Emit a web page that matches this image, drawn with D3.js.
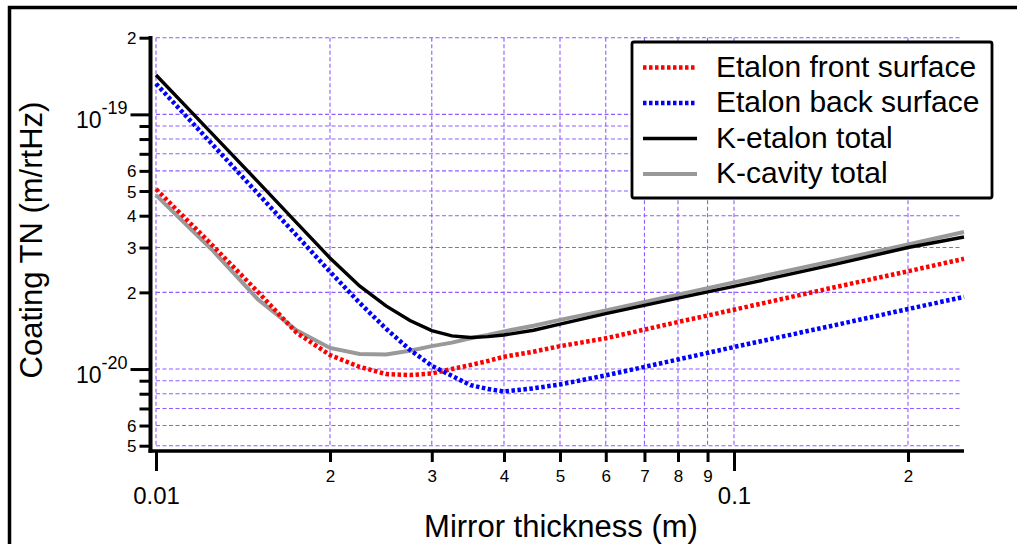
<!DOCTYPE html>
<html>
<head>
<meta charset="utf-8">
<script src="https://cdn.jsdelivr.net/npm/d3@7"></script>
<style>
body { margin: 0; background: #fff; }
svg { display: block; font-family: "Liberation Sans", Arial, Helvetica, sans-serif; }
</style>
</head>
<body>
<svg width="1017" height="544"></svg>
<script>
// mirror thickness (m)
let thickness = [0.01, 0.0125, 0.015, 0.0175, 0.02, 0.0225, 0.025, 0.0275, 0.03, 0.0325, 0.035, 0.0375, 0.04, 0.045, 0.05, 0.06, 0.08, 0.1, 0.15, 0.2, 0.25]

// coating thermal noise (m/rtHz)
let frontSurface = [5.09e-20, 3.07e-20, 2.01e-20, 1.39e-20, 1.135e-20, 1.02e-20, 0.956e-20, 0.947e-20, 0.96e-20, 1.0e-20, 1.037e-20, 1.075e-20, 1.118e-20, 1.17e-20, 1.23e-20, 1.32e-20, 1.53e-20, 1.71e-20, 2.10e-20, 2.42e-20, 2.71e-20]
let backSurface = [1.32e-19, 7.65e-20, 4.89e-20, 3.35e-20, 2.41e-20, 1.82e-20, 1.44e-20, 1.19e-20, 1.03e-20, 0.94e-20, 0.865e-20, 0.835e-20, 0.816e-20, 0.84e-20, 0.87e-20, 0.944e-20, 1.09e-20, 1.22e-20, 1.49e-20, 1.72e-20, 1.92e-20]
let kEtalonTotal = [1.427e-19, 8.40e-20, 5.44e-20, 3.76e-20, 2.73e-20, 2.12e-20, 1.77e-20, 1.55e-20, 1.415e-20, 1.35e-20, 1.33e-20, 1.34e-20, 1.36e-20, 1.42e-20, 1.50e-20, 1.65e-20, 1.90e-20, 2.11e-20, 2.58e-20, 3.0e-20, 3.30e-20]
let kCavityTotal = [4.82e-20, 2.94e-20, 1.88e-20, 1.42e-20, 1.21e-20, 1.145e-20, 1.14e-20, 1.18e-20, 1.23e-20, 1.27e-20, 1.32e-20, 1.36e-20, 1.405e-20, 1.48e-20, 1.56e-20, 1.70e-20, 1.96e-20, 2.19e-20, 2.67e-20, 3.085e-20, 3.45e-20]

let seriesNames = ['Etalon front surface', 'Etalon back surface', 'K-etalon total', 'K-cavity total']

// tick values and labels
let xMinorTicks = [0.02, 0.03, 0.04, 0.05, 0.06, 0.07, 0.08, 0.09, 0.2]
let xMinorLabels = ['2', '3', '4', '5', '6', '7', '8', '9', '2']
let xMajorTicks = [0.01, 0.1]
let xMajorLabels = ['0.01', '0.1']

let yMinorTicks = [5e-21, 6e-21, 7e-21, 8e-21, 9e-21, 2e-20, 3e-20, 4e-20, 5e-20, 6e-20, 7e-20, 8e-20, 9e-20, 2e-19]
let yMinorLabels = ['5', '6', '', '', '', '2', '3', '4', '5', '6', '', '', '', '2']
let yMajorTicks = [1e-20, 1e-19]
let yMajorExponents = ['-20', '-19']

let svg = d3.select('svg')

let x = d3.scaleLog().domain([0.01, 0.25]).range([156, 964])
let y = d3.scaleLog().domain([5e-21, 2e-19]).range([445.7, 37.7])

let gridColor = '#8f5cff'

// outer frame
svg.append('rect')
   .attr('x', 9.5).attr('y', 7.5)
   .attr('width', 1100).attr('height', 600)
   .attr('fill', 'none').attr('stroke', '#000').attr('stroke-width', 3.5)

// grid
let grid = svg.append('g')
grid.selectAll('.vgrid')
    .data(xMajorTicks.concat(xMinorTicks))
    .enter().append('line')
    .attr('x1', d => x(d)).attr('x2', d => x(d))
    .attr('y1', y.range()[1]).attr('y2', y.range()[0])
grid.selectAll('.hgrid')
    .data(yMajorTicks.concat(yMinorTicks))
    .enter().append('line')
    .attr('x1', x.range()[0]).attr('x2', 962)
    .attr('y1', d => y(d)).attr('y2', d => y(d))
grid.selectAll('line')
    .attr('stroke', gridColor).attr('stroke-width', 1.1)
    .attr('stroke-dasharray', '4,2.5')

// curves
let line = d3.line()
             .x((d, i) => x(thickness[i]))
             .y(d => y(d))

let curves = [
    {data: kCavityTotal, color: '#999999', width: 4, dash: null},
    {data: kEtalonTotal, color: '#000000', width: 3.4, dash: null},
    {data: frontSurface, color: '#ff0000', width: 4.5, dash: '3.5,2.5'},
    {data: backSurface, color: '#0000ff', width: 4.5, dash: '3.5,2.5'}
]
svg.selectAll('.curve')
   .data(curves)
   .enter().append('path')
   .attr('class', 'curve')
   .attr('d', d => line(d.data))
   .attr('fill', 'none')
   .attr('stroke', d => d.color)
   .attr('stroke-width', d => d.width)
   .attr('stroke-dasharray', d => d.dash)

// y axis
let yAxisX = 150.5
let yMinorAxis = svg.append('g')
    .attr('transform', `translate(${yAxisX},0)`)
    .call(d3.axisLeft(y).tickValues(yMinorTicks).tickSize(11).tickPadding(3)
          .tickFormat((d, i) => yMinorLabels[i]))
let yMajorAxis = svg.append('g')
    .attr('transform', `translate(${yAxisX},0)`)
    .call(d3.axisLeft(y).tickValues(yMajorTicks).tickSize(20).tickFormat(''))

yMajorAxis.selectAll('.tick').each(function (d, i) {
    let t = d3.select(this).append('text')
              .attr('x', -23).attr('y', 13)
              .attr('text-anchor', 'end')
              .attr('fill', '#000')
    t.append('tspan').attr('font-size', 23).text('10')
    t.append('tspan').attr('font-size', 18).attr('dy', -14).text(yMajorExponents[i])
})

// x axis
let xAxisY = 451
let xMinorAxis = svg.append('g')
    .attr('transform', `translate(0,${xAxisY})`)
    .call(d3.axisBottom(x).tickValues(xMinorTicks).tickSize(11).tickPadding(8)
          .tickFormat((d, i) => xMinorLabels[i]))
let xMajorAxis = svg.append('g')
    .attr('transform', `translate(0,${xAxisY})`)
    .call(d3.axisBottom(x).tickValues(xMajorTicks).tickSize(20).tickPadding(16)
          .tickFormat((d, i) => xMajorLabels[i]))

svg.selectAll('.domain').remove()
svg.selectAll('.tick line').attr('stroke', '#000').attr('stroke-width', 3)
yMinorAxis.selectAll('text').attr('font-size', 17).attr('dy', '0.36em')
xMinorAxis.selectAll('text').attr('font-size', 17)
xMajorAxis.selectAll('text').attr('font-size', 24)
svg.selectAll('g').attr('font-family', null).attr('font-size', null)

// axis lines
svg.append('line')
   .attr('x1', yAxisX).attr('x2', yAxisX)
   .attr('y1', 36).attr('y2', xAxisY + 1.75)
   .attr('stroke', '#000').attr('stroke-width', 4)
svg.append('line')
   .attr('x1', yAxisX - 2).attr('x2', 964)
   .attr('y1', xAxisY).attr('y2', xAxisY)
   .attr('stroke', '#000').attr('stroke-width', 3.5)

// axis titles
svg.append('text')
   .attr('x', 561).attr('y', 537)
   .attr('text-anchor', 'middle')
   .attr('font-size', 31)
   .text('Mirror thickness (m)')
svg.append('text')
   .attr('transform', 'translate(42,240) rotate(-90)')
   .attr('text-anchor', 'middle')
   .attr('font-size', 31)
   .text('Coating TN (m/rtHz)')

// legend
let legend = svg.append('g')
legend.append('rect')
      .attr('x', 632).attr('y', 42)
      .attr('width', 360).attr('height', 156)
      .attr('rx', 2)
      .attr('fill', '#fff').attr('stroke', '#000').attr('stroke-width', 2.8)

let legendStyles = [curves[2], curves[3], curves[1], curves[0]]
let rows = legend.selectAll('.row')
    .data(seriesNames)
    .enter().append('g')
    .attr('transform', (d, i) => `translate(0,${76.5 + i * 35.5})`)
rows.append('line')
    .attr('x1', 643).attr('x2', 697)
    .attr('y1', -9).attr('y2', -9)
    .attr('stroke', (d, i) => legendStyles[i].color)
    .attr('stroke-width', (d, i) => legendStyles[i].width)
    .attr('stroke-dasharray', (d, i) => legendStyles[i].dash)
rows.append('text')
    .attr('x', 716)
    .attr('font-size', 30)
    .text(d => d)
</script>
</body>
</html>
